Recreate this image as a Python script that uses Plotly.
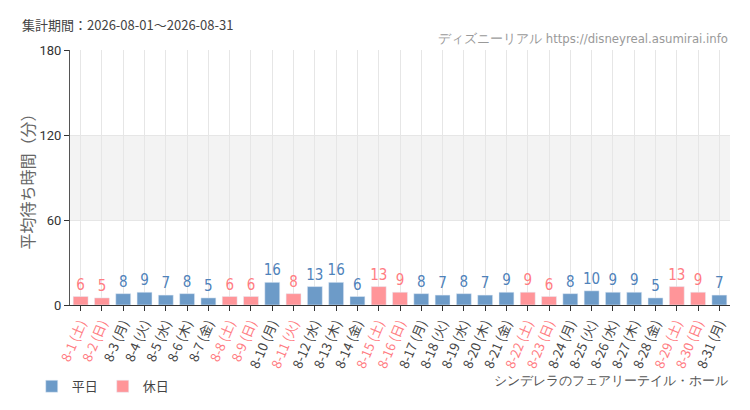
import plotly.graph_objects as go

days = list(range(1, 32))
weekdays = ["土", "日", "月", "火", "水", "木", "金"]
dow = [weekdays[(d - 1) % 7] for d in days]
holidays = [1, 2, 8, 9, 11, 15, 16, 22, 23, 29, 30]
values = [6, 5, 8, 9, 7, 8, 5, 6, 6, 16, 8, 13, 16, 6, 13, 9, 8, 7, 8, 7, 9, 9, 6, 8, 10, 9, 9, 5, 13, 9, 7]
labels = [f"8-{d} ({w})" for d, w in zip(days, dow)]

BLUE = "#6d9bc8"
PINK = "#ff9599"
BLUE_T = "#4f82ba"
PINK_T = "#ff7c82"
NARROW = "DejaVu Sans Condensed, Liberation Sans Narrow, Roboto Condensed, Roboto, sans-serif"
JP = "Noto Sans CJK JP, sans-serif"

wk_x = [l for d, l in zip(days, labels) if d not in holidays]
wk_y = [v for d, v in zip(days, values) if d not in holidays]
ho_x = [l for d, l in zip(days, labels) if d in holidays]
ho_y = [v for d, v in zip(days, values) if d in holidays]

fig = go.Figure()
fig.add_trace(go.Bar(x=wk_x, y=wk_y, name="平日", marker_color=BLUE, width=0.7,
                     text=wk_y, textposition="outside", constraintext="none",
                     textfont=dict(color=BLUE_T, size=15, family=NARROW), cliponaxis=False))
fig.add_trace(go.Bar(x=ho_x, y=ho_y, name="休日", marker_color=PINK, width=0.7,
                     text=ho_y, textposition="outside", constraintext="none",
                     textfont=dict(color=PINK_T, size=15, family=NARROW), cliponaxis=False))

ticktext = [f'<span style="color:{PINK_T if d in holidays else "#444"}">{l}</span>'
            for d, l in zip(days, labels)]

fig.add_shape(type="rect", xref="paper", yref="y", x0=0, x1=1, y0=60, y1=120,
              fillcolor="#f3f3f3", line_width=0, layer="below")

fig.update_layout(
    width=750, height=410,
    margin=dict(l=70, r=20, t=50, b=105, autoexpand=False),
    paper_bgcolor="white", plot_bgcolor="white",
    barmode="overlay",
    font=dict(family=JP, color="#444"),
    showlegend=True,
    legend=dict(orientation="h", x=-0.058, y=-0.26, xanchor="left", yanchor="top",
                font=dict(size=13, color="#444"), traceorder="normal"),
    xaxis=dict(type="category", categoryorder="array", categoryarray=labels,
               tickvals=labels, ticktext=ticktext, tickangle=-67, automargin=False,
               tickfont=dict(size=13, family=JP),
               showgrid=True, gridcolor="#e6e6e6", ticks="outside", ticklen=5,
               tickcolor="#333", showline=True, linecolor="#333", linewidth=1),
    yaxis=dict(range=[0, 180], tickvals=[0, 60, 120, 180], showgrid=True, automargin=False,
               gridcolor="#e6e6e6", zeroline=False, ticks="outside", ticklen=5,
               tickcolor="#333", showline=True, linecolor="#555",
               tickfont=dict(size=13, color="#333", family="Roboto, sans-serif"),
               title=dict(text="平均待ち時間（分）", font=dict(size=16, color="#666"), standoff=0)),
    annotations=[
        dict(text="集計期間：2026-08-01～2026-08-31", xref="paper", yref="paper",
             x=-0.076, y=1.0, xanchor="left", yanchor="bottom", yshift=14,
             showarrow=False, font=dict(size=13, color="#444")),
        dict(text="ディズニーリアル https://disneyreal.asumirai.info", xref="paper", yref="paper",
             x=1.0, y=1.0, xanchor="right", yanchor="bottom", yshift=2,
             showarrow=False, font=dict(size=13, color="#999", family=NARROW)),
        dict(text="シンデレラのフェアリーテイル・ホール", xref="paper", yref="paper",
             x=1.0, y=-0.26, xanchor="right", yanchor="top",
             showarrow=False, font=dict(size=13, color="#555", family=NARROW)),
    ],
)

fig.write_html("out.html", config={"displayModeBar": False},
               post_script="document.body.style.margin='0';")
